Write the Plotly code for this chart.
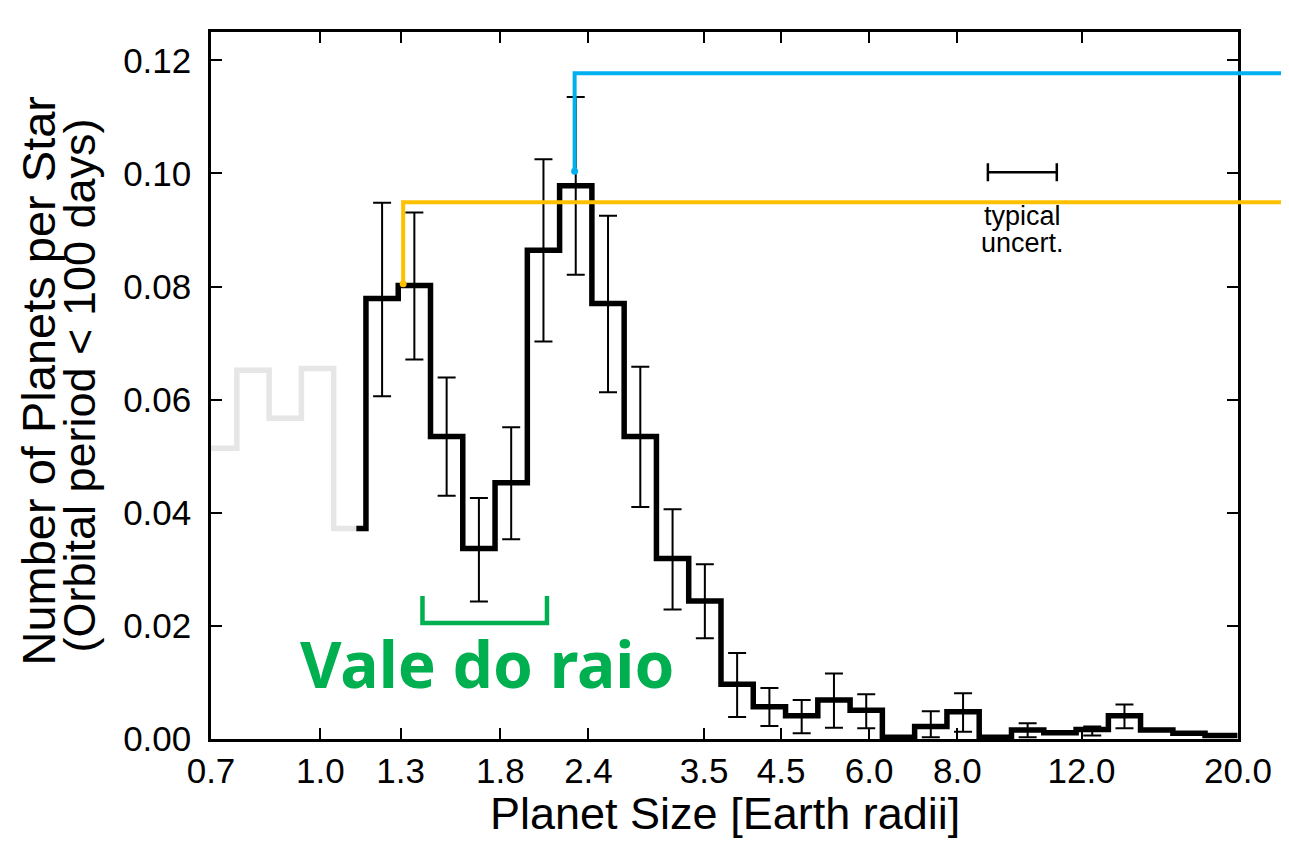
import numpy as np
import plotly.graph_objects as go

# log-uniform radius bins [Earth radii], edges
bin_edges = [0.6854, 0.7616, 0.8462, 0.9402, 1.0447, 1.1608, 1.2898, 1.4331,
             1.5923, 1.7692, 1.9658, 2.1842, 2.4269, 2.6966, 2.9962, 3.3291,
             3.699, 4.110, 4.567, 5.074, 5.638, 6.264, 6.960, 7.734, 8.593,
             9.548, 10.61, 11.79, 13.10, 14.55, 16.17, 17.96, 19.96]

# grey (incomplete) part, bins 0-4
grey_rate = [0.0514, 0.0652, 0.0567, 0.0655, 0.0372]
black_start = 1.125

# planets per star, bins 5-31, with upper / lower ends of the error bars
occ_rate = [0.0779, 0.0802, 0.0535, 0.0337, 0.0453, 0.0864, 0.0978, 0.0770,
            0.0535, 0.0319, 0.0244, 0.0097, 0.0057, 0.0041, 0.0069, 0.0051,
            0.0003, 0.0022, 0.0048, 0.0003, 0.0016, 0.0011, 0.0017, 0.0041,
            0.0016, 0.0010, 0.0006]
occ_hi = [0.0948, 0.0931, 0.0639, 0.0426, 0.0551, 0.1025, 0.1135, 0.0925,
          0.0658, 0.0406, 0.0309, 0.0152, 0.0090, 0.0069, 0.0116, 0.0079,
          0.0003, 0.0049, 0.0081, 0.0003, 0.0028, 0.0011, 0.0022, 0.0061,
          0.0016, 0.0010, 0.0006]
occ_lo = [0.0606, 0.0671, 0.0430, 0.0243, 0.0353, 0.0703, 0.0821, 0.0613,
          0.0410, 0.0229, 0.0178, 0.0039, 0.0023, 0.0010, 0.0020, 0.0019,
          0.0003, 0.0003, 0.0013, 0.0003, 0.0003, 0.0011, 0.0006, 0.0019,
          0.0016, 0.0010, 0.0006]

# "typical uncert." bar
typ_x, typ_lo, typ_hi, typ_y = 9.89, 8.84, 11.07, 0.1002

# highlight lines (blue: main peak, orange: first peak)
blue_x, blue_y0, blue_y1 = 2.294, 0.1004, 0.1177
orange_x, orange_y0, orange_y1 = 1.3108, 0.0805, 0.0949

# radius valley bracket
valley_x0, valley_x1, valley_top, valley_bot = 1.396, 2.096, 0.0253, 0.0205

x_ticks = [0.7, 1.0, 1.3, 1.8, 2.4, 3.5, 4.5, 6.0, 8.0, 12.0, 20.0]
y_ticks = [0.0, 0.02, 0.04, 0.06, 0.08, 0.10, 0.12]

X_MIN, X_MAX = 0.7, 20.0
Y_MAX = 0.125
# the page body adds an 8px margin, so the figure is 8px smaller than the window
W, H = 1281, 845
ML, MR, MT, MB = 203, 51, 24, 114
PW, PH = W - ML - MR, H - MT - MB

FONT = "Liberation Sans, Arial, Helvetica, sans-serif"
BLUE = "#00B0F0"
ORANGE = "#FFC000"
GREEN = "#00B050"


def fx(v):
    return (np.log10(v) - np.log10(X_MIN)) / (np.log10(X_MAX) - np.log10(X_MIN))


def fy(v):
    return v / Y_MAX


edges = np.array(bin_edges)
centers = np.sqrt(edges[5:-1] * edges[6:])

fig = go.Figure()

# grey part of the histogram
fig.add_trace(go.Scatter(
    x=bin_edges[:6], y=grey_rate + [grey_rate[-1]],
    mode="lines", line=dict(color="#e6e6e6", width=5.5, shape="hv"),
    hoverinfo="skip"
))

# black histogram
fig.add_trace(go.Scatter(
    x=[black_start] + bin_edges[5:], y=[grey_rate[-1]] + occ_rate + [occ_rate[-1]],
    mode="lines", line=dict(color="black", width=5.5, shape="hv"),
    hoverinfo="skip"
))

# error bars
fig.add_trace(go.Scatter(
    x=centers, y=occ_rate, mode="markers",
    marker=dict(size=4, color="black"),
    error_y=dict(type="data", symmetric=False,
                 array=np.array(occ_hi) - np.array(occ_rate),
                 arrayminus=np.array(occ_rate) - np.array(occ_lo),
                 color="black", thickness=2, width=9),
))

# typical uncertainty
fig.add_trace(go.Scatter(
    x=[typ_x], y=[typ_y], mode="markers", marker=dict(size=1, color="rgba(0,0,0,0)"),
    error_x=dict(type="data", symmetric=False, array=[typ_hi - typ_x],
                 arrayminus=[typ_x - typ_lo], color="black", thickness=2.5, width=9),
))

# start dots of the highlight lines
fig.add_trace(go.Scatter(
    x=[blue_x, orange_x], y=[blue_y0, orange_y0], mode="markers",
    marker=dict(size=7, color=[BLUE, ORANGE]), cliponaxis=False
))

shapes = []
for xv, y0, y1, col in [(orange_x, orange_y0, orange_y1, ORANGE),
                        (blue_x, blue_y0, blue_y1, BLUE)]:
    shapes.append(dict(
        type="path", xref="paper", yref="paper",
        path=f"M {fx(xv)},{fy(y0)} L {fx(xv)},{fy(y1)} L 1.2,{fy(y1)}",
        line=dict(color=col, width=4)
    ))

shapes.append(dict(
    type="path", xref="x", yref="y",
    path=(f"M {valley_x0},{valley_top} L {valley_x0},{valley_bot} "
          f"L {valley_x1},{valley_bot} L {valley_x1},{valley_top}"),
    line=dict(color=GREEN, width=4.5)
))

annotations = [
    dict(text="Number of Planets per Star", xref="paper", yref="paper",
         x=0, y=0.5, xshift=-173, yshift=5, textangle=-90, showarrow=False,
         xanchor="center", yanchor="middle", font=dict(size=47, family=FONT)),
    dict(text="(Orbital period < 100 days)", xref="paper", yref="paper",
         x=0, y=0.5, xshift=-132, textangle=-90, showarrow=False,
         xanchor="center", yanchor="middle", font=dict(size=45, family=FONT)),
    dict(text="Planet Size [Earth radii]", xref="paper", yref="paper",
         x=0.5, y=0, yshift=-74, showarrow=False,
         xanchor="center", yanchor="middle", font=dict(size=45, family=FONT)),
    dict(text="typical", x=np.log10(typ_x), y=0.0924, showarrow=False,
         xanchor="center", yanchor="middle", font=dict(size=27, family=FONT)),
    dict(text="uncert.", x=np.log10(typ_x), y=0.0877, showarrow=False,
         xanchor="center", yanchor="middle", font=dict(size=27, family=FONT)),
    dict(text="<b>Vale do raio</b>", x=np.log10(1.7237), y=0.0134, showarrow=False,
         xanchor="center", yanchor="middle",
         font=dict(size=64, family="Noto Sans, Open Sans, sans-serif", color=GREEN)),
]

fig.update_layout(
    width=W, height=H,
    margin=dict(l=ML, r=MR, t=MT, b=MB),
    paper_bgcolor="white", plot_bgcolor="white",
    showlegend=False,
    font=dict(family=FONT, color="black"),
    shapes=shapes,
    annotations=annotations,
    xaxis=dict(
        type="log", range=[np.log10(X_MIN), np.log10(X_MAX)],
        tickvals=x_ticks, ticktext=[f"{v:.1f}" for v in x_ticks],
        ticks="inside", ticklen=11, tickwidth=1.5, tickcolor="black",
        showline=True, linewidth=2.5, linecolor="black", mirror="ticks",
        showgrid=False, zeroline=False, ticklabelstandoff=-1,
        tickfont=dict(size=35, family=FONT),
    ),
    yaxis=dict(
        range=[0, Y_MAX],
        tickvals=y_ticks, ticktext=[f"{v:.2f}" for v in y_ticks],
        ticks="inside", ticklen=11, tickwidth=1.5, tickcolor="black",
        showline=True, linewidth=2.5, linecolor="black", mirror="ticks",
        showgrid=False, zeroline=False, ticklabelstandoff=10,
        tickfont=dict(size=35, family=FONT),
    ),
)

fig.write_html("out.html")
